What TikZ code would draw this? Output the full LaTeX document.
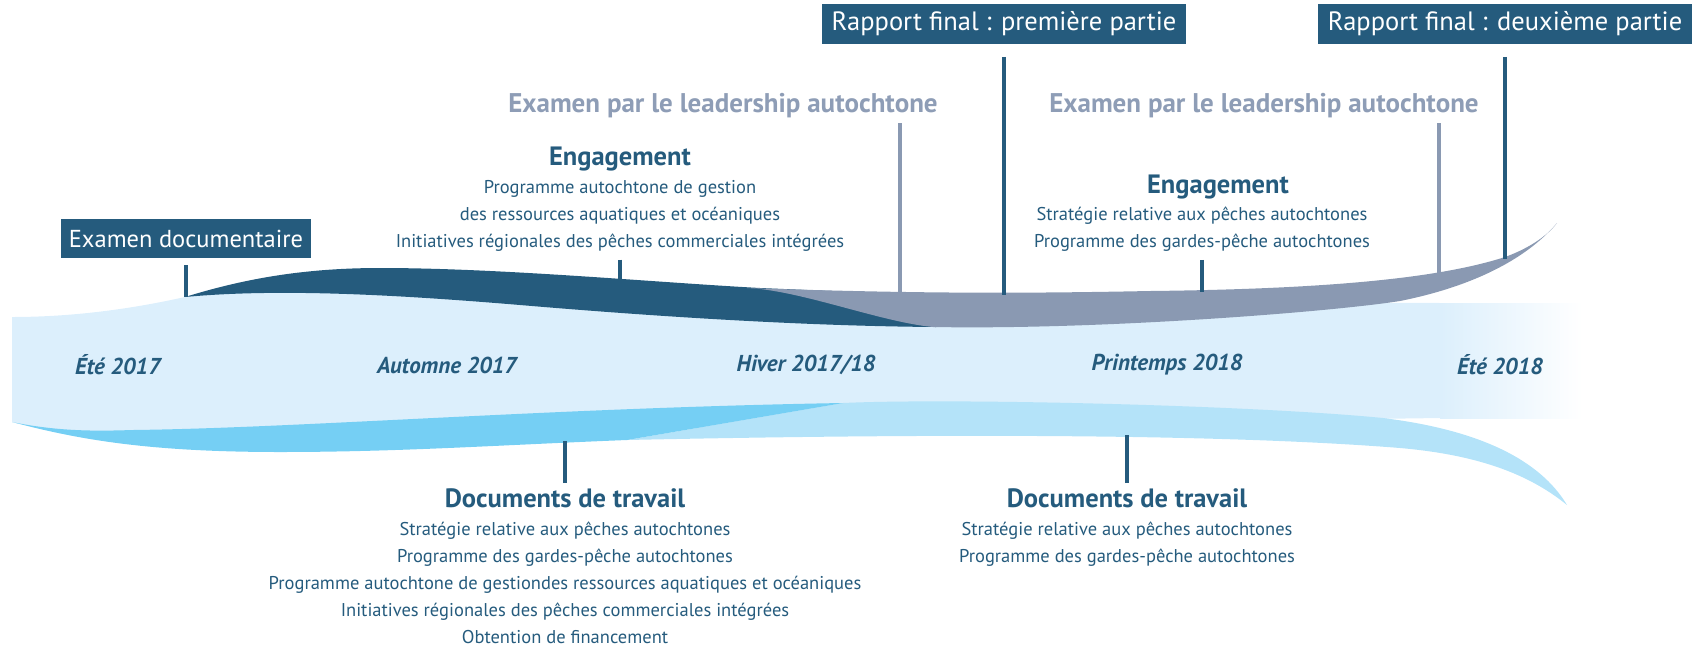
\documentclass[tikz,border=0pt]{standalone}
\usepackage{fontspec}
\setmainfont{PT Sans}
\definecolor{darkblue}{RGB}{37,91,125}
\definecolor{grayband}{RGB}{138,153,178}
\definecolor{leadgray}{RGB}{142,157,182}
\definecolor{lightband}{RGB}{220,239,252}
\definecolor{medband}{RGB}{117,207,244}
\definecolor{lighterband}{RGB}{180,227,249}

\begin{document}
\begin{tikzpicture}[x=1pt,y=-1pt,
        stem/.style={line width=4pt, darkblue},
        graystem/.style={line width=4pt, grayband},
        boxlbl/.style={fill=darkblue, text=white, font=\fontsize{26.5}{30}\selectfont,
                inner xsep=10pt, inner ysep=0pt, minimum height=39.5pt},
        headlbl/.style={text=darkblue, font=\bfseries\fontsize{26.5}{30}\selectfont, inner sep=0pt},
        leadlbl/.style={text=leadgray, font=\bfseries\fontsize{27}{30}\selectfont, inner sep=0pt},
        itemlbl/.style={text=darkblue, font=\fontsize{18.5}{27}\selectfont, align=center, inner sep=0pt},
        seasonlbl/.style={text=darkblue, font=\bfseries\itshape\fontsize{23}{26}\selectfont, inner sep=0pt}]
        \useasboundingbox (0,0) rectangle (1705,646);

        % main band
        \fill[lightband] (12,317) .. controls (80,317) and (140,307) .. (185,297)
                .. controls (230,285) and (300,279) .. (380,280)
                .. controls (500,283) and (650,296) .. (760,300) -- (1441,303) -- (1441,418)
                -- (133,436) .. controls (100,436) and (60,433) .. (12,422) -- cycle;
        \shade[left color=lightband, right color=white] (1440,303) rectangle (1582,418);

        % working papers bands
        \fill[lighterband] (627,440) -- (843,403) .. controls (950,398) and (1250,405) .. (1383,418)
                .. controls (1480,430) and (1540,460) .. (1567,505)
                .. controls (1530,475) and (1480,455) .. (1400,448)
                .. controls (1250,436) and (1000,432) .. (627,440) -- cycle;
        \fill[medband] (12,422) .. controls (60,432) and (100,431) .. (133,430)
                .. controls (300,428) and (550,408) .. (843,403) -- (627,440)
                .. controls (500,445) and (400,452) .. (280,452)
                .. controls (150,452) and (80,440) .. (12,422) -- cycle;

        % engagement bands
        \fill[darkblue] (185,297) .. controls (240,280) and (300,268) .. (380,268)
                .. controls (500,268) and (650,282) .. (760,288) -- (950,296) -- (936,327)
                .. controls (800,326) and (650,316) .. (520,305)
                .. controls (400,295) and (280,288) .. (185,297) -- cycle;
        \fill[grayband] (747,288) .. controls (900,293) and (1000,294) .. (1150,291)
                .. controls (1330,289) and (1440,278) .. (1505,257)
                .. controls (1530,248) and (1548,235) .. (1557,223)
                .. controls (1530,255) and (1480,285) .. (1400,301)
                .. controls (1330,312) and (1100,330) .. (933,327)
                .. controls (880,322) and (800,290) .. (747,288) -- cycle;

        % labels above
        \node[boxlbl, font=\fontsize{24.5}{30}\selectfont, inner xsep=8pt] (exdoc) at (186,238.5) {Examen documentaire};
        \node[boxlbl] (rap1) at (1004,24) {Rapport final : première partie};
        \node[boxlbl] (rap2) at (1505,24) {Rapport final : deuxième partie};
        \node[leadlbl] (lead1) at (723,106) {Examen par le leadership autochtone};
        \node[leadlbl] (lead2) at (1264,106) {Examen par le leadership autochtone};
        \node[headlbl] (eng1) at (620,159) {Engagement};
        \node[itemlbl] (eng1list) at (620,216) {Programme autochtone de gestion\\des ressources aquatiques et océaniques\\Initiatives régionales des pêches commerciales intégrées};
        \node[headlbl] (eng2) at (1218,187) {Engagement};
        \node[itemlbl] (eng2list) at (1202,229.5) {Stratégie relative aux pêches autochtones\\Programme des gardes-pêche autochtones};

        % seasons
        \node[seasonlbl] (ete17) at (118,365) {Été 2017};
        \node[seasonlbl] (aut17) at (447,365) {Automne 2017};
        \node[seasonlbl] (hiv17) at (806,365) {Hiver 2017/18};
        \node[seasonlbl] (pri18) at (1167,365) {Printemps 2018};
        \node[seasonlbl] (ete18) at (1500,365) {Été 2018};

        % labels below
        \node[headlbl] (doc1) at (565,498) {Documents de travail};
        \node[itemlbl] (doc1list) at (565,583) {Stratégie relative aux pêches autochtones\\Programme des gardes-pêche autochtones\\Programme autochtone de gestiondes ressources aquatiques et océaniques\\Initiatives régionales des pêches commerciales intégrées\\Obtention de financement};
        \node[headlbl] (doc2) at (1127,498) {Documents de travail};
        \node[itemlbl] (doc2list) at (1127,544) {Stratégie relative aux pêches autochtones\\Programme des gardes-pêche autochtones};

        % stems
        \coordinate (exdocfoot) at (186,297);
        \coordinate (eng1foot) at (620,281);
        \coordinate (lead1top) at (900,123);
        \coordinate (lead1foot) at (900,293);
        \coordinate (rap1foot) at (1004,295);
        \coordinate (eng2foot) at (1202,292);
        \coordinate (lead2top) at (1439,123);
        \coordinate (lead2foot) at (1439,275);
        \coordinate (rap2foot) at (1505,259);
        \coordinate (doc1top) at (565,441);
        \coordinate (doc2top) at (1127,435);
        \draw[stem] (exdoc.south) ++(0,7) -- (exdocfoot);
        \draw[stem] (eng1list.south) ++(0,8) -- (eng1foot);
        \draw[graystem] (lead1top) -- (lead1foot);
        \draw[stem] (rap1.south) ++(0,13) -- (rap1foot);
        \draw[stem] (eng2list.south) ++(0,8) -- (eng2foot);
        \draw[graystem] (lead2top) -- (lead2foot);
        \draw[stem] (rap2.south) ++(0,13) -- (rap2foot);
        \draw[stem] (doc1.north) ++(0,-5) -- (doc1top);
        \draw[stem] (doc2.north) ++(0,-5) -- (doc2top);
\end{tikzpicture}
\end{document}
